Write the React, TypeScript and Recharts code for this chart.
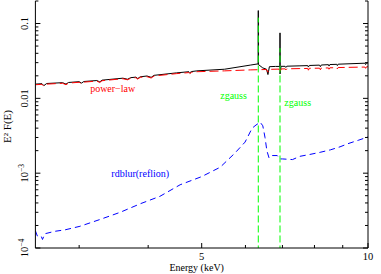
import React from 'react';
import { LineChart, Line, XAxis, YAxis, ReferenceDot } from 'recharts';

const FONT = "'Liberation Serif', 'DejaVu Serif', serif";
const RED = '#ff0000';
const GREEN = '#00ff00';
const BLUE = '#0000ff';

// Axis ticks
const xTicks = [3, 4, 5, 6, 7, 8, 9, 10];
const xMajor = [5, 10];
const yTicks = [
  1e-4, 2e-4, 3e-4, 4e-4, 5e-4, 6e-4, 7e-4, 8e-4, 9e-4,
  1e-3, 2e-3, 3e-3, 4e-3, 5e-3, 6e-3, 7e-3, 8e-3, 9e-3,
  0.01, 0.02, 0.03, 0.04, 0.05, 0.06, 0.07, 0.08, 0.09,
  0.1, 0.2,
];
const yMajor = [1e-4, 1e-3, 0.01, 0.1];

// Total model (black)
const totalE = [2.50, 2.57, 2.59, 2.62, 2.80, 2.84, 2.87, 3.00, 3.03, 3.06, 3.23, 3.27, 3.30, 3.60, 3.67, 3.72, 3.80, 3.83, 3.87, 3.98, 4.05, 4.10, 4.50, 4.74, 4.76, 4.79, 4.90, 5.50, 6.12, 6.27, 6.33, 6.33, 6.33, 6.45, 6.55, 6.59, 6.63, 6.80, 6.93, 6.93, 6.93, 6.96, 7.08, 7.10, 7.13, 7.53, 7.78, 7.80, 7.83, 8.17, 8.20, 8.23, 8.48, 8.50, 8.53, 8.78, 8.80, 8.83, 9.87, 9.90, 9.93, 10.0];
const totalV = [0.0155, 0.0157, 0.0148, 0.0158, 0.0162, 0.0155, 0.0163, 0.0167, 0.0160, 0.0168, 0.0173, 0.0166, 0.0175, 0.0186, 0.0180, 0.0189, 0.0192, 0.0184, 0.0194, 0.0199, 0.0191, 0.0203, 0.0219, 0.0227, 0.0220, 0.0228, 0.0233, 0.0245, 0.0278, 0.0286, 0.0289, 0.149, 0.0284, 0.0255, 0.0245, 0.0208, 0.0265, 0.0267, 0.0267, 0.075, 0.0212, 0.0268, 0.0268, 0.0259, 0.0269, 0.0272, 0.0274, 0.0262, 0.0275, 0.0278, 0.0265, 0.0279, 0.0282, 0.0270, 0.0283, 0.0285, 0.0274, 0.0286, 0.0295, 0.0283, 0.0296, 0.0297];

// power-law (red)
const plE = [2.50, 2.57, 2.59, 2.62, 2.80, 2.84, 2.87, 3.00, 3.03, 3.06, 3.23, 3.27, 3.30, 3.60, 3.67, 3.72, 3.80, 3.83, 3.87, 3.98, 4.05, 4.10, 4.50, 4.74, 4.76, 4.79, 4.90, 5.50, 6.12, 6.55, 6.59, 6.63, 6.90, 6.93, 6.96, 7.08, 7.10, 7.13, 7.53, 7.78, 7.80, 7.83, 8.17, 8.20, 8.23, 8.48, 8.50, 8.53, 8.78, 8.80, 8.83, 9.87, 9.90, 9.93, 10.0];
const plV = [0.0152, 0.0154, 0.0145, 0.0155, 0.0159, 0.0152, 0.0160, 0.0164, 0.0157, 0.0165, 0.0170, 0.0163, 0.0172, 0.0183, 0.0177, 0.0186, 0.0189, 0.0181, 0.0191, 0.0195, 0.0187, 0.0199, 0.0214, 0.0221, 0.0214, 0.0222, 0.0227, 0.0233, 0.0240, 0.0243, 0.0224, 0.0244, 0.0246, 0.0222, 0.0247, 0.0248, 0.0240, 0.0248, 0.0250, 0.0251, 0.0238, 0.0252, 0.0253, 0.0241, 0.0254, 0.0255, 0.0245, 0.0256, 0.0257, 0.0248, 0.0258, 0.0262, 0.0252, 0.0263, 0.0265];

// zgauss lines (green)
const g1E = [6.33, 6.33];
const g1V = [1e-7, 0.12];
const g2E = [6.93, 6.93];
const g2V = [1e-7, 0.047];

// rdblur(reflion) (blue)
const reflE = [2.50, 2.52, 2.56, 2.575, 2.60, 2.71, 2.83, 3.01, 3.27, 3.56, 3.87, 4.20, 4.57, 5.00, 5.40, 5.74, 5.99, 6.17, 6.27, 6.38, 6.45, 6.51, 6.56, 6.62, 6.70, 6.85, 6.92, 7.00, 7.30, 7.53, 7.85, 8.19, 8.55, 8.90, 9.20, 9.60, 10.0];
const reflV = [1.7e-4, 1.45e-4, 1.45e-4, 1.3e-4, 1.55e-4, 1.67e-4, 1.75e-4, 1.95e-4, 2.4e-4, 3.0e-4, 3.9e-4, 4.9e-4, 7.0e-4, 9.0e-4, 1.2e-3, 1.85e-3, 2.6e-3, 4.0e-3, 4.4e-3, 4.8e-3, 4.3e-3, 3.0e-3, 2.0e-3, 1.6e-3, 1.72e-3, 1.72e-3, 1.55e-3, 1.55e-3, 1.52e-3, 1.68e-3, 1.78e-3, 1.9e-3, 2.05e-3, 2.25e-3, 2.48e-3, 2.75e-3, 3.05e-3];

const zip = (es: number[], vs: number[]) => es.map((e, i) => ({ e, v: vs[i] }));
const totalData = zip(totalE, totalV);
const plData = zip(plE, plV);
const g1Data = zip(g1E, g1V);
const g2Data = zip(g2E, g2V);
const reflData = zip(reflE, reflV);

const MAJ = 5;
const MIN = 3;
const FS = 10;
const TXT = { fontFamily: FONT, fontSize: FS, fontWeight: 400 as const };

const BottomTick = (p: any) => {
  const { x, y, payload } = p;
  const major = xMajor.includes(payload.value);
  return (
    <g>
      <line x1={x} x2={x} y1={y} y2={y - (major ? MAJ : MIN)} stroke="#000" strokeWidth={1} />
      {major && (
        <text x={x} y={y + 12} textAnchor="middle" style={{ ...TXT, fontSize: 10.5 }} fill="#000">
          {payload.value}
        </text>
      )}
    </g>
  );
};

const TopTick = (p: any) => {
  const { x, y, payload } = p;
  const major = xMajor.includes(payload.value);
  return <line x1={x} x2={x} y1={y} y2={y + (major ? MAJ : MIN)} stroke="#000" strokeWidth={1} />;
};

const yLabelFor = (v: number) => {
  if (v === 0.1) return <tspan>0.1</tspan>;
  if (v === 0.01) return <tspan>0.01</tspan>;
  if (v === 1e-3) return (<><tspan>10</tspan><tspan dy={-4} style={{ fontSize: 7.5 }}>−3</tspan></>);
  if (v === 1e-4) return (<><tspan>10</tspan><tspan dy={-4} style={{ fontSize: 7.5 }}>−4</tspan></>);
  return null;
};

const LeftTick = (p: any) => {
  const { x, y, payload } = p;
  const major = yMajor.includes(payload.value);
  const bx = x - 7;
  return (
    <g>
      <line x1={x} x2={x + (major ? MAJ : MIN)} y1={y} y2={y} stroke="#000" strokeWidth={1} />
      {major && (
        <text x={bx} y={y} textAnchor="middle" transform={`rotate(-90, ${bx}, ${y})`} style={{ ...TXT, fontSize: 10.5 }} fill="#000">
          {yLabelFor(payload.value)}
        </text>
      )}
    </g>
  );
};

const RightTick = (p: any) => {
  const { x, y, payload } = p;
  const major = yMajor.includes(payload.value);
  return <line x1={x} x2={x - (major ? MAJ : MIN)} y1={y} y2={y} stroke="#000" strokeWidth={1} />;
};

const YTitle = (p: any) => {
  const vb = p.viewBox || { x: 0, y: 1, width: 35, height: 247 };
  const cx = vb.x + 11;
  const cy = vb.y + vb.height / 2 + 2;
  return (
    <text x={cx} y={cy} textAnchor="middle" transform={`rotate(-90, ${cx}, ${cy})`} style={{ ...TXT, fontSize: 11 }} fill="#000">
      E² F(E)
    </text>
  );
};

const XTitle = (p: any) => {
  const vb = p.viewBox || { x: 35, y: 248, width: 333, height: 26 };
  const cx = vb.x + vb.width / 2 - 5;
  const cy = vb.y + 23;
  return (
    <text x={cx} y={cy} textAnchor="middle" style={TXT} fill="#000">
      Energy (keV)
    </text>
  );
};

const AnnText = (props: any) => {
  const { viewBox, value, color } = props;
  const cx = viewBox.x + viewBox.width / 2;
  const cy = viewBox.y + viewBox.height / 2;
  return (
    <text x={cx} y={cy + 3.5} textAnchor="middle" style={TXT} fill={color}>
      {value}
    </text>
  );
};

const lbl = (value: string, color: string) => <AnnText value={value} color={color} />;

export default function App() {
  return (
    <div style={{ position: 'absolute', left: 0, top: 0, width: 381, height: 274, background: '#fff' }}>
      <LineChart width={381} height={274} margin={{ top: 1, right: 0, bottom: 0, left: 0 }}>
        <XAxis
          dataKey="e"
          type="number"
          scale="log"
          domain={[2.5, 10]}
          allowDataOverflow
          ticks={xTicks}
          interval={0}
          tick={<BottomTick />}
          tickSize={0}
          tickMargin={0}
          tickLine={false}
          height={26}
          axisLine={{ stroke: '#000' }}
          label={<XTitle />}
        />
        <XAxis
          xAxisId="t"
          orientation="top"
          dataKey="e"
          type="number"
          scale="log"
          domain={[2.5, 10]}
          allowDataOverflow
          ticks={xTicks}
          interval={0}
          tick={<TopTick />}
          tickSize={0}
          tickMargin={0}
          tickLine={false}
          height={0}
          axisLine={{ stroke: '#000' }}
        />
        <YAxis
          type="number"
          scale="log"
          domain={[1e-4, 0.2]}
          allowDataOverflow
          ticks={yTicks}
          interval={0}
          tick={<LeftTick />}
          tickSize={0}
          tickMargin={0}
          tickLine={false}
          width={35.4}
          axisLine={{ stroke: '#000' }}
          label={<YTitle />}
        />
        <YAxis
          yAxisId="r"
          orientation="right"
          type="number"
          scale="log"
          domain={[1e-4, 0.2]}
          allowDataOverflow
          ticks={yTicks}
          interval={0}
          tick={<RightTick />}
          tickSize={0}
          tickMargin={0}
          tickLine={false}
          width={13}
          axisLine={{ stroke: '#000' }}
        />
        <Line data={totalData} dataKey="v" type="linear" stroke="#000" strokeWidth={1} dot={false} isAnimationActive={false} />
        <Line data={plData} dataKey="v" type="linear" stroke={RED} strokeWidth={1} strokeDasharray="9 4" dot={false} isAnimationActive={false} />
        <Line data={reflData} dataKey="v" type="linear" stroke={BLUE} strokeWidth={1} strokeDasharray="6 4" dot={false} isAnimationActive={false} />
        <Line data={g1Data} dataKey="v" type="linear" stroke={GREEN} strokeWidth={1} strokeDasharray="7 3" dot={false} isAnimationActive={false} />
        <Line data={g2Data} dataKey="v" type="linear" stroke={GREEN} strokeWidth={1} strokeDasharray="7 3" dot={false} isAnimationActive={false} />
        <ReferenceDot x={3.45} y={0.0134} r={0} ifOverflow="visible" label={lbl('power−law', RED)} />
        <ReferenceDot x={5.71} y={0.011} r={0} ifOverflow="visible" label={lbl('zgauss', GREEN)} />
        <ReferenceDot x={7.46} y={0.0089} r={0} ifOverflow="visible" label={lbl('zgauss', GREEN)} />
        <ReferenceDot x={3.87} y={0.001} r={0} ifOverflow="visible" label={lbl('rdblur(reflion)', BLUE)} />
      </LineChart>
    </div>
  );
}
